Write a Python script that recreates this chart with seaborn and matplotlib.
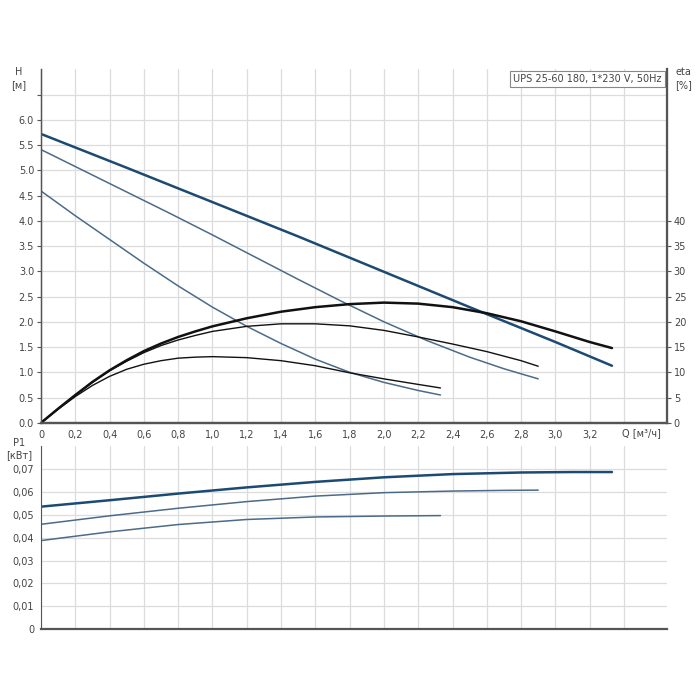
import matplotlib
matplotlib.use("Agg")
import matplotlib.pyplot as plt
import seaborn as sns

sns.set_style("white")
plt.rcParams["font.family"] = ["DejaVu Sans"]

# --- data ---
# H curves [m] (speeds 3, 2, 1)
q_h3 = [0, 0.5, 1.0, 1.5, 2.0, 2.5, 3.0, 3.33]
h3 = [5.72, 5.05, 4.37, 3.69, 2.99, 2.29, 1.60, 1.13]
q_h2 = [0, 0.25, 0.5, 0.75, 1.0, 1.25, 1.5, 1.75, 2.0, 2.25, 2.5, 2.7, 2.9]
h2 = [5.41, 4.99, 4.57, 4.15, 3.72, 3.28, 2.84, 2.41, 2.00, 1.63, 1.30, 1.07, 0.87]
q_h1 = [0, 0.2, 0.4, 0.6, 0.8, 1.0, 1.2, 1.4, 1.6, 1.8, 2.0, 2.2, 2.33]
h1 = [4.59, 4.10, 3.63, 3.16, 2.71, 2.29, 1.91, 1.57, 1.26, 1.00, 0.80, 0.64, 0.55]

# eta curves [%]
q_e3 = [0, 0.1, 0.2, 0.3, 0.4, 0.5, 0.6, 0.7, 0.8, 0.9, 1.0, 1.2, 1.4, 1.6, 1.8,
        2.0, 2.2, 2.4, 2.6, 2.8, 3.0, 3.2, 3.33]
e3 = [0, 2.8, 5.5, 8.1, 10.4, 12.4, 14.2, 15.7, 17.0, 18.1, 19.1, 20.7, 22.0, 22.9,
      23.5, 23.8, 23.6, 22.9, 21.7, 20.1, 18.1, 16.0, 14.8]
q_e2 = [0, 0.1, 0.2, 0.3, 0.4, 0.5, 0.6, 0.7, 0.8, 0.9, 1.0, 1.2, 1.4, 1.6, 1.8,
        2.0, 2.2, 2.4, 2.6, 2.8, 2.9]
e2 = [0, 2.8, 5.5, 8.0, 10.3, 12.2, 13.9, 15.3, 16.4, 17.3, 18.1, 19.1, 19.6, 19.6,
      19.2, 18.3, 17.0, 15.6, 14.1, 12.3, 11.2]
q_e1 = [0, 0.1, 0.2, 0.3, 0.4, 0.5, 0.6, 0.7, 0.8, 0.9, 1.0, 1.2, 1.4, 1.6, 1.8,
        2.0, 2.2, 2.33]
e1 = [0, 2.7, 5.2, 7.4, 9.2, 10.6, 11.6, 12.3, 12.8, 13.0, 13.1, 12.9, 12.3, 11.3,
      9.9, 8.7, 7.6, 6.9]

# P1 curves [kW]
q_p3 = [0, 0.4, 0.8, 1.2, 1.6, 2.0, 2.4, 2.8, 3.1, 3.33]
p3 = [0.0535, 0.0563, 0.0592, 0.0619, 0.0643, 0.0663, 0.0677, 0.0684, 0.0686, 0.0686]
q_p2 = [0, 0.4, 0.8, 1.2, 1.6, 2.0, 2.4, 2.7, 2.9]
p2 = [0.0458, 0.0495, 0.0528, 0.0557, 0.0581, 0.0596, 0.0603, 0.0606, 0.0607]
q_p1 = [0, 0.4, 0.8, 1.2, 1.6, 2.0, 2.33]
p1 = [0.0387, 0.0425, 0.0457, 0.0479, 0.0490, 0.0494, 0.0496]

x_ticks = [i * 0.2 for i in range(18)]
h_ticks = [i * 0.5 for i in range(14)]
eta_ticks = [0, 5, 10, 15, 20, 25, 30, 35, 40]
p_ticks = [i * 0.01 for i in range(8)]

title_text = "UPS 25-60 180, 1*230 V, 50Hz"

blue_dark = "#1c4a72"
blue = "#4b6b88"
black = "#111111"
grid_c = "#dcdcdc"
spine_c = "#555555"
txt_c = "#444444"
fs = 7

fig = plt.figure(figsize=(7, 7), dpi=100)
ax = fig.add_axes([0.0586, 0.396, 0.894, 0.505])
ax2 = ax.twinx()
axp = fig.add_axes([0.0586, 0.101, 0.894, 0.262])

# H curves
sns.lineplot(x=q_h3, y=h3, ax=ax, color=blue_dark, lw=1.8)
sns.lineplot(x=q_h2, y=h2, ax=ax, color=blue, lw=1.1)
sns.lineplot(x=q_h1, y=h1, ax=ax, color=blue, lw=1.1)

# eta curves
sns.lineplot(x=q_e3, y=e3, ax=ax2, color=black, lw=1.8)
sns.lineplot(x=q_e2, y=e2, ax=ax2, color=black, lw=1.0)
sns.lineplot(x=q_e1, y=e1, ax=ax2, color=black, lw=1.0)

# P1 curves
sns.lineplot(x=q_p3, y=p3, ax=axp, color=blue_dark, lw=1.8)
sns.lineplot(x=q_p2, y=p2, ax=axp, color=blue, lw=1.1)
sns.lineplot(x=q_p1, y=p1, ax=axp, color=blue, lw=1.1)

xmax = 3.65
for a in (ax, axp):
    a.set_xlim(0, xmax)
    a.set_xticks(x_ticks)
    a.grid(True, color=grid_c, lw=0.9)
    a.set_axisbelow(True)
    a.set_xlabel("")
    a.set_ylabel("")
    a.tick_params(axis="both", direction="out", length=3, width=0.8,
                  colors=spine_c, labelcolor=txt_c, labelsize=fs, pad=2)

# top panel
ax.set_ylim(0, 7.0)
ax.set_yticks(h_ticks)
ax.set_yticklabels([f"{v:.1f}" if v <= 6.0 else "" for v in h_ticks])
ax.set_xticklabels(["0" if v == 0 else ("" if v > 3.3 else f"{v:.1f}".replace(".", ","))
                    for v in x_ticks])
ax2.set_ylim(0, 70)
ax2.set_yticks(eta_ticks)
ax2.set_ylabel("")
ax2.tick_params(axis="y", direction="out", length=3, width=0.8,
                colors=spine_c, labelcolor=txt_c, labelsize=fs, pad=2)
ax2.grid(False)
for a in (ax, ax2):
    a.spines["top"].set_visible(False)
    for s in ("left", "right", "bottom"):
        a.spines[s].set_color(spine_c)
ax.spines["left"].set_linewidth(1.0)
ax.spines["bottom"].set_linewidth(1.6)
ax2.spines["right"].set_linewidth(1.6)
ax2.spines["bottom"].set_linewidth(1.6)

ax.text(-0.035, 7.05, "H\n[м]", ha="center", va="top", fontsize=fs,
        color=txt_c, transform=ax.get_yaxis_transform(), linespacing=1.4)
ax2.text(1.027, 7.05 * 10, "eta\n[%]", ha="center", va="top", fontsize=fs,
         color=txt_c, transform=ax2.get_yaxis_transform(), linespacing=1.4)
ax.text(3.615, -0.1, "Q [м³/ч]", ha="right", va="top", fontsize=fs, color=txt_c)
ax.text(3.62, 6.9, title_text, ha="right", va="top", fontsize=fs, color=txt_c,
        bbox=dict(boxstyle="square,pad=0.3", fc="white", ec="#888888", lw=0.8))

# bottom panel
axp.set_ylim(0, 0.08)
axp.set_yticks(p_ticks)
axp.set_yticklabels(["0" if v == 0 else f"{v:.2f}".replace(".", ",") for v in p_ticks])
axp.set_xticklabels([])
axp.tick_params(axis="x", length=0)
axp.spines["top"].set_visible(False)
axp.spines["right"].set_visible(False)
axp.spines["left"].set_color(spine_c)
axp.spines["bottom"].set_color(spine_c)
axp.spines["bottom"].set_linewidth(1.6)
axp.text(-0.035, 0.0835, "P1\n[кВт]", ha="center", va="top", fontsize=fs,
         color=txt_c, transform=axp.get_yaxis_transform(), linespacing=1.3)

fig.savefig("out.png", dpi=100)
